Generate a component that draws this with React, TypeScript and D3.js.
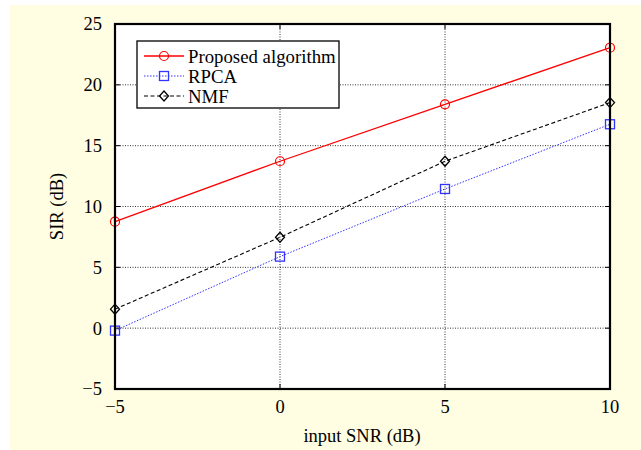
import * as d3 from "d3";

const snr = [-5, 0, 5, 10];
const proposed = [8.75, 13.72, 18.4, 23.05];
const rpca = [-0.2, 5.88, 11.44, 16.76];
const nmf = [1.56, 7.47, 13.72, 18.54];
const xTicks = [-5, 0, 5, 10];
const yTicks = [-5, 0, 5, 10, 15, 20, 25];
const seriesNames = ["Proposed algorithm", "RPCA", "NMF"];

const W = 641;
const H = 450;
const left = 115, right = 610, top = 24, bottom = 389;
const font = "'Liberation Serif', 'Times New Roman', serif";

function Marker({ kind, cx, cy, color }: { kind: string; cx: number; cy: number; color: string }) {
    if (kind === "circle") return <circle cx={cx} cy={cy} r={4.5} fill="none" stroke={color} strokeWidth={1.2} />;
    if (kind === "square") return <rect x={cx - 4.5} y={cy - 4.5} width={9} height={9} fill="none" stroke={color} strokeWidth={1.3} />;
    return <path d={`M${cx},${cy - 5}L${cx + 4.5},${cy}L${cx},${cy + 5}L${cx - 4.5},${cy}Z`} fill="none" stroke={color} strokeWidth={1.3} />;
}

export default function App() {
    const x = d3.scaleLinear([-5, 10], [left, right]);
    const y = d3.scaleLinear([-5, 25], [bottom, top]);
    const line = d3.line<number>((d, i) => x(snr[i]), (d) => y(d));

    const series = [
        { name: seriesNames[0], values: proposed, color: "#ff0000", dash: "none", marker: "circle", width: 1.3 },
        { name: seriesNames[1], values: rpca, color: "#3333ff", dash: "1.5,1.5", marker: "square", width: 1 },
        { name: seriesNames[2], values: nmf, color: "#000000", dash: "4,2.5", marker: "diamond", width: 1.1 },
    ];

    return (
        <svg width={W} height={H} style={{ display: "block", position: "absolute", left: 0, top: 0 }} fontFamily={font}>
            <rect x={0} y={0} width={W} height={H} fill="#ffffff" />
            <rect x={10} y={5} width={W - 10} height={H - 5} fill="#fffde2" />
            <rect x={left} y={top} width={right - left} height={bottom - top} fill="#ffffff" />

            {/* grid */}
            <g stroke="#000" strokeWidth={0.8} strokeDasharray="1,1.5">
                {xTicks.slice(1, -1).map((t) => (
                    <line key={"gx" + t} x1={x(t)} x2={x(t)} y1={top} y2={bottom} />
                ))}
                {yTicks.slice(1, -1).map((t) => (
                    <line key={"gy" + t} x1={left} x2={right} y1={y(t)} y2={y(t)} />
                ))}
            </g>

            {/* ticks */}
            <g stroke="#000" strokeWidth={1}>
                {xTicks.map((t) => (
                    <g key={"tx" + t}>
                        <line x1={x(t)} x2={x(t)} y1={bottom} y2={bottom - 5} />
                        <line x1={x(t)} x2={x(t)} y1={top} y2={top + 5} />
                    </g>
                ))}
                {yTicks.map((t) => (
                    <g key={"ty" + t}>
                        <line x1={left} x2={left + 5} y1={y(t)} y2={y(t)} />
                        <line x1={right} x2={right - 5} y1={y(t)} y2={y(t)} />
                    </g>
                ))}
            </g>

            {/* series */}
            {series.map((s) => (
                <g key={s.name}>
                    <path d={line(s.values) as string} fill="none" stroke={s.color} strokeWidth={s.width} strokeDasharray={s.dash} />
                    {s.values.map((v, i) => (
                        <Marker key={i} kind={s.marker} cx={x(snr[i])} cy={y(v)} color={s.color} />
                    ))}
                </g>
            ))}

            <rect x={left} y={top} width={right - left} height={bottom - top} fill="none" stroke="#000" strokeWidth={2.2} />

            {/* tick labels */}
            <g fontSize={18.5} fill="#000">
                {yTicks.map((t) => (
                    <text key={"ly" + t} x={102} y={y(t)} dy="0.35em" textAnchor="end">
                        {t < 0 ? "\u2212" + Math.abs(t) : t}
                    </text>
                ))}
                {xTicks.map((t) => (
                    <text key={"lx" + t} x={x(t)} y={413} textAnchor="middle">
                        {t < 0 ? "\u2212" + Math.abs(t) : t}
                    </text>
                ))}
            </g>

            <text x={362} y={442} fontSize={18.5} textAnchor="middle">input SNR (dB)</text>
            <text transform={`translate(63,${(top + bottom) / 2}) rotate(-90)`} fontSize={18.5} textAnchor="middle">SIR (dB)</text>

            {/* legend */}
            <g>
                <rect x={137} y={41} width={202} height={67} fill="#ffffff" stroke="#000" strokeWidth={1.3} />
                {series.map((s, i) => {
                    const ly = 56 + i * 20;
                    return (
                        <g key={"lg" + s.name}>
                            <line x1={144} x2={184} y1={ly} y2={ly} stroke={s.color} strokeWidth={s.width} strokeDasharray={s.dash} />
                            <Marker kind={s.marker} cx={164} cy={ly} color={s.color} />
                            <text x={188} y={ly} dy="0.35em" fontSize={18.8}>{s.name}</text>
                        </g>
                    );
                })}
            </g>
        </svg>
    );
}
